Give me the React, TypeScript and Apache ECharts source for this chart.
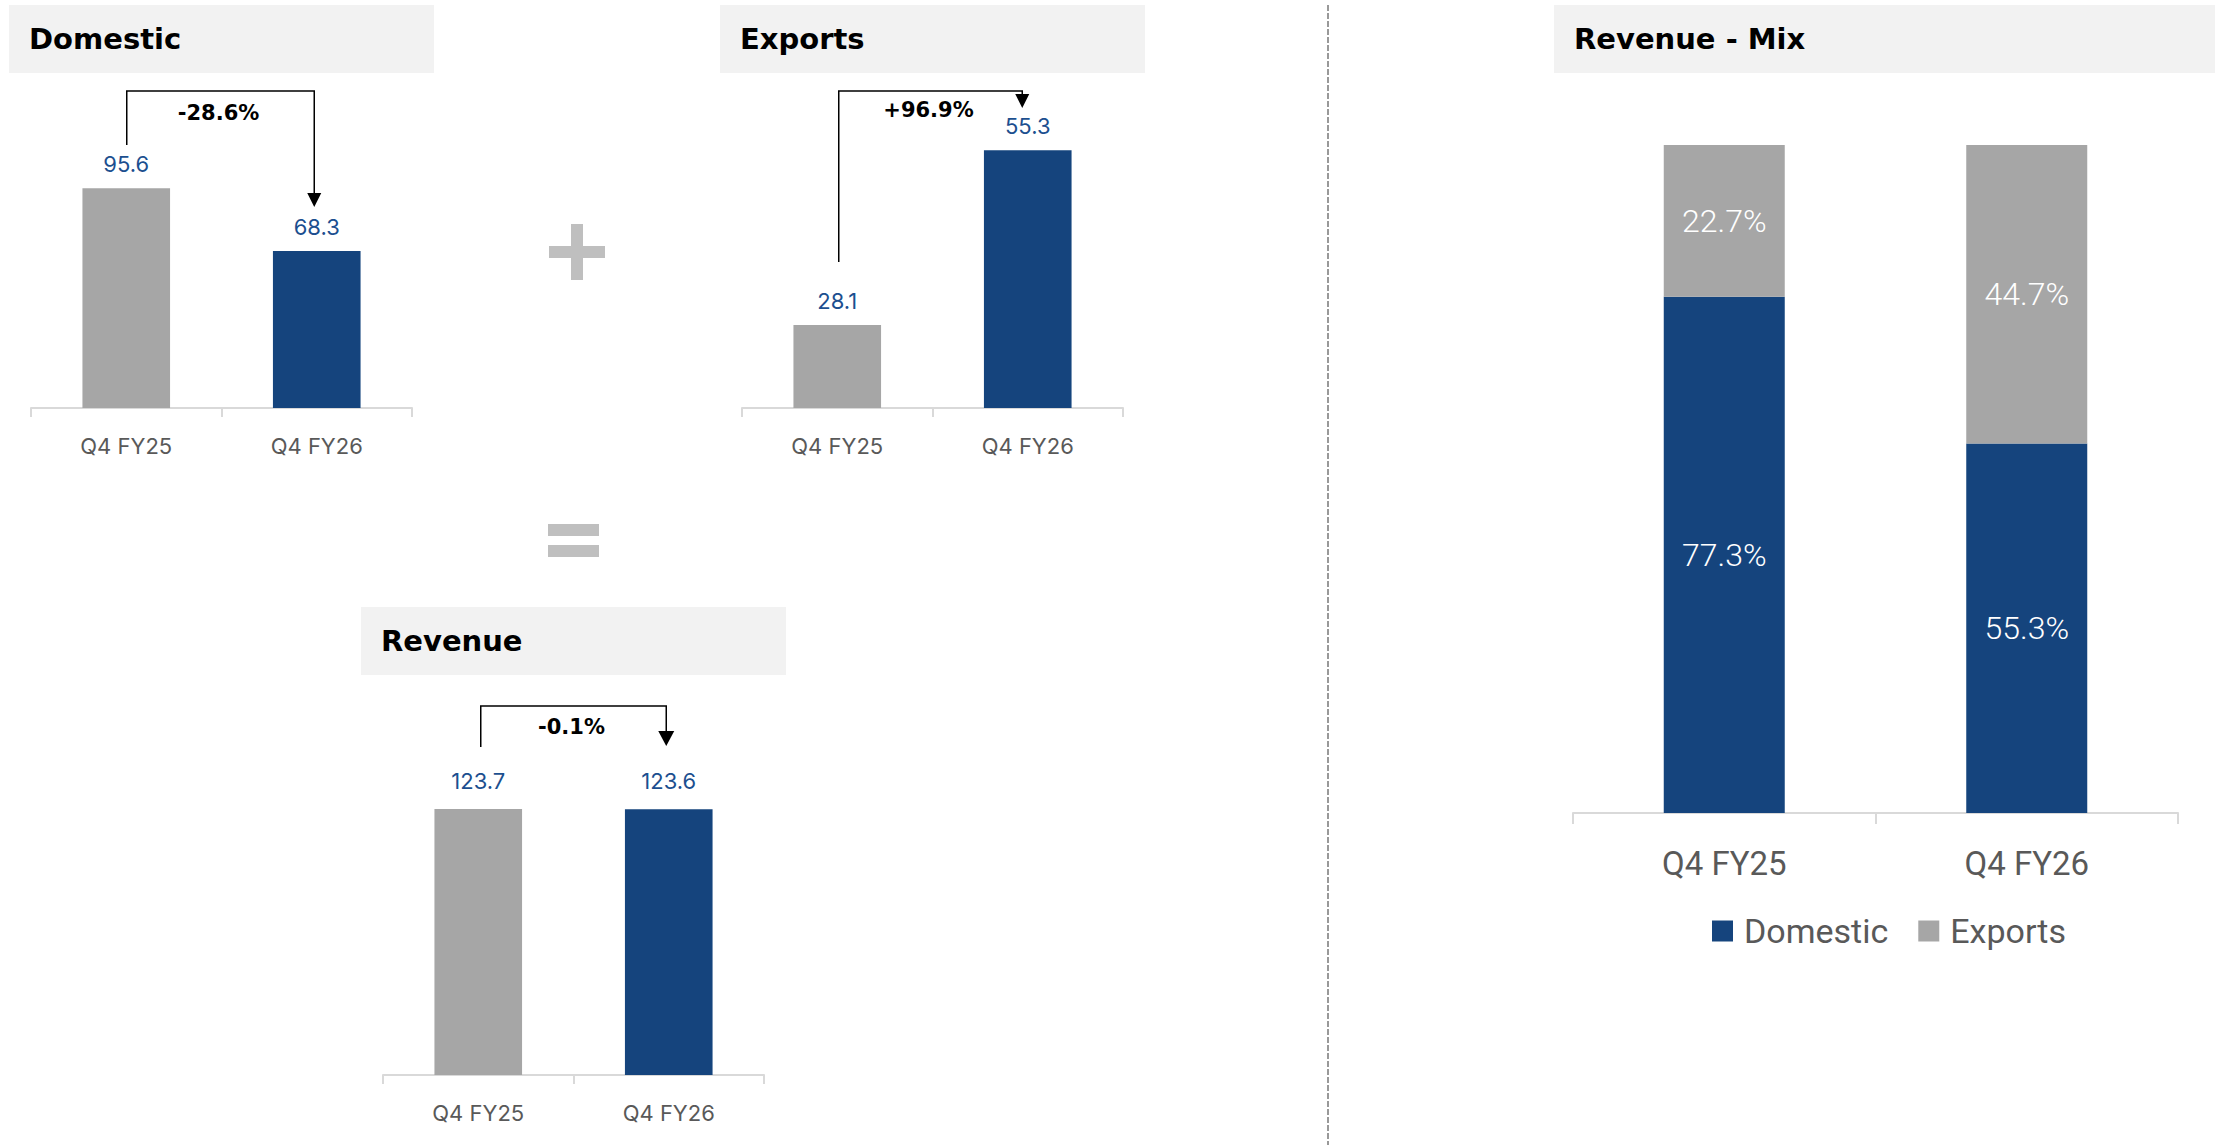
import React, { useEffect, useRef } from 'react';
import * as echarts from 'echarts';

const categories = ['Q4 FY25', 'Q4 FY26'];
const domesticValues = [95.6, 68.3];
const exportsValues = [28.1, 55.3];
const revenueValues = [123.7, 123.6];
const mixDomestic = [77.3, 55.3];
const mixExports = [22.7, 44.7];
const changeLabels = ['-28.6%', '+96.9%', '-0.1%'];
const panelTitles = ['Domestic', 'Exports', 'Revenue', 'Revenue - Mix'];
const legendNames = ['Domestic', 'Exports'];

const GRAY = '#a6a6a6';
const BLUE = '#15447d';
const LBL = '#1c4f8f';
const AXIS = '#d9d9d9';
const CAT = '#595959';
const FONT = 'Inter, "Open Sans", sans-serif';
const TFONT = '"DejaVu Sans", "Open Sans", sans-serif';
const MFONT = 'Roboto, sans-serif';

export default function App() {
  const ref = useRef<HTMLDivElement>(null);
  useEffect(() => {
    const chart = echarts.init(ref.current!, null, { renderer: 'svg' });
    const grids = [
      { left: 31, top: 100, width: 381, height: 308 },
      { left: 742, top: 100, width: 381, height: 308 },
      { left: 383, top: 700, width: 381, height: 375 },
      { left: 1573, top: 145, width: 605, height: 668 },
    ];
    const yRanges = [
      { min: 0, max: 134 },
      { min: 15.2, max: 63.1 },
      { min: 0, max: 174.4 },
      { min: 0, max: 100 },
    ];
    const xAxes = grids.map((g, i) => ({
      type: 'category',
      gridIndex: i,
      data: categories,
      axisLine: { show: true, lineStyle: { color: AXIS, width: 2 } },
      axisTick: { show: true, length: i === 3 ? 11 : 9, lineStyle: { color: AXIS, width: 2 } },
      axisLabel: {
        color: CAT,
        fontSize: i === 3 ? 33 : 22,
        fontFamily: i === 3 ? MFONT : FONT,
        margin: i === 3 ? 34 : 27,
      },
    }));
    const yAxes = yRanges.map((r, i) => ({
      type: 'value',
      gridIndex: i,
      min: r.min,
      max: r.max,
      show: false,
      splitLine: { show: false },
    }));
    const simpleBar = (name: string, vals: number[], idx: number, dist: number) => ({
      name,
      type: 'bar',
      xAxisIndex: idx,
      yAxisIndex: idx,
      barWidth: '46%',
      data: vals.map((v, i) => ({ value: v, itemStyle: { color: i === 0 ? GRAY : BLUE } })),
      label: {
        show: true,
        position: 'top',
        distance: dist,
        color: LBL,
        fontSize: 22,
        fontFamily: FONT,
      },
    });
    const mixLabel = {
      show: true,
      position: 'inside',
      color: '#ffffff',
      fontSize: 32,
      fontWeight: 300,
      fontFamily: MFONT,
      formatter: '{c}%',
    };
    chart.setOption({
      animation: false,
      backgroundColor: '#ffffff',
      grid: grids,
      xAxis: xAxes,
      yAxis: yAxes,
      legend: {
        data: legendNames,
        left: 1707,
        top: 909,
        icon: 'rect',
        itemWidth: 21,
        itemHeight: 21,
        itemGap: 30,
        textStyle: { color: CAT, fontSize: 34, fontFamily: MFONT, padding: [0, 0, 0, 6] },
      },
      series: [
        simpleBar('dom', domesticValues, 0, 13),
        simpleBar('exp', exportsValues, 1, 13),
        simpleBar('rev', revenueValues, 2, 17),
        {
          name: legendNames[0],
          type: 'bar',
          stack: 'mix',
          xAxisIndex: 3,
          yAxisIndex: 3,
          barWidth: '40%',
          itemStyle: { color: BLUE },
          data: mixDomestic,
          label: mixLabel,
        },
        {
          name: legendNames[1],
          type: 'bar',
          stack: 'mix',
          xAxisIndex: 3,
          yAxisIndex: 3,
          barWidth: '40%',
          itemStyle: { color: GRAY },
          data: mixExports,
          label: mixLabel,
        },
      ],
    });

    const px = (axis: number, cat: string) => chart.convertToPixel({ xAxisIndex: axis }, cat) as number;
    const arrowSpecs = [
      { axis: 0, topY: 91, startY: 145, tipY: 207, d1: 0.5, d2: -2.5, labelY: 113, ah: 14, aw: 7 },
      { axis: 1, topY: 91, startY: 262, tipY: 108, d1: 1.5, d2: -5.5, labelY: 110, ah: 14, aw: 7 },
      { axis: 2, topY: 706, startY: 747, tipY: 746, d1: 2.5, d2: -2.5, labelY: 727, ah: 15, aw: 8 },
    ];
    const graphics: any[] = [];
    const headers = [
      { x: 9, y: 5, w: 425, h: 68, ty: 39, tx: 29 },
      { x: 720, y: 5, w: 425, h: 68, ty: 39, tx: 740 },
      { x: 361, y: 607, w: 425, h: 68, ty: 641, tx: 381 },
      { x: 1554, y: 5, w: 661, h: 68, ty: 39, tx: 1574 },
    ];
    headers.forEach((h, i) => {
      graphics.push({ type: 'rect', shape: { x: h.x, y: h.y, width: h.w, height: h.h }, style: { fill: '#f2f2f2' } });
      graphics.push({
        type: 'text',
        x: h.tx,
        y: h.ty,
        style: {
          text: panelTitles[i],
          fill: '#000000',
          fontSize: 29,
          fontWeight: 'bold',
          fontFamily: TFONT,
          verticalAlign: 'middle',
          align: 'left',
        },
      });
    });
    arrowSpecs.forEach((a, i) => {
      const x1 = px(a.axis, categories[0]) + a.d1;
      const x2 = px(a.axis, categories[1]) + a.d2;
      graphics.push({
        type: 'polyline',
        shape: { points: [[x1, a.startY], [x1, a.topY], [x2, a.topY], [x2, a.tipY - a.ah]] },
        style: { stroke: '#000000', lineWidth: 1.5, fill: null },
      });
      graphics.push({
        type: 'polygon',
        shape: { points: [[x2 - a.aw, a.tipY - a.ah], [x2 + a.aw, a.tipY - a.ah], [x2, a.tipY]] },
        style: { fill: '#000000' },
      });
      graphics.push({
        type: 'text',
        x: (x1 + x2) / 2 - 2,
        y: a.labelY,
        style: {
          text: changeLabels[i],
          fill: '#000000',
          fontSize: 21,
          fontWeight: 'bold',
          fontFamily: TFONT,
          align: 'center',
          verticalAlign: 'middle',
        },
      });
    });
    // plus sign
    graphics.push({ type: 'rect', shape: { x: 571, y: 224, width: 12, height: 56 }, style: { fill: '#bfbfbf' } });
    graphics.push({ type: 'rect', shape: { x: 549, y: 246, width: 56, height: 12 }, style: { fill: '#bfbfbf' } });
    // equals sign
    graphics.push({ type: 'rect', shape: { x: 548, y: 524, width: 51, height: 12 }, style: { fill: '#bfbfbf' } });
    graphics.push({ type: 'rect', shape: { x: 548, y: 545, width: 51, height: 12 }, style: { fill: '#bfbfbf' } });
    // divider
    graphics.push({
      type: 'line',
      shape: { x1: 1328, y1: 5, x2: 1328, y2: 1145 },
      style: { stroke: '#999999', lineWidth: 2, lineDash: [6, 2] },
    });
    chart.setOption({ graphic: graphics });

    return () => chart.dispose();
  }, []);
  return (
    <div
      ref={ref}
      style={{ position: 'fixed', left: 0, top: 0, width: 2215, height: 1145, background: '#ffffff' }}
    />
  );
}
